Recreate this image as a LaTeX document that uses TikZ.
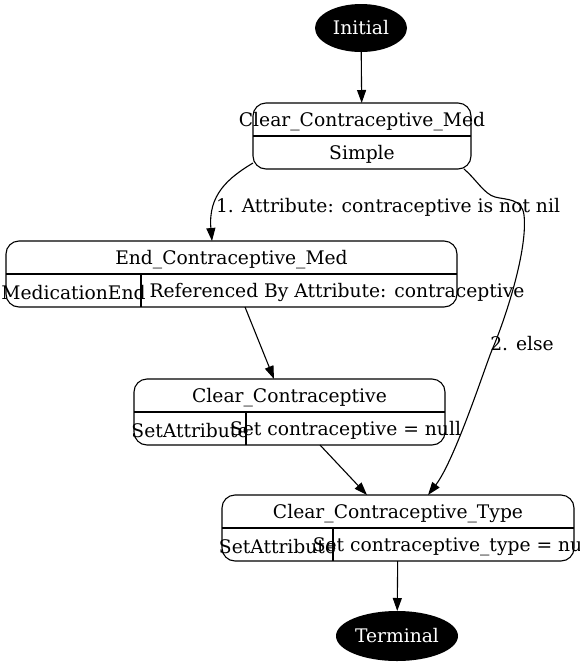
\documentclass[tikz,border=0pt]{standalone}
\usepackage{fontspec}
\setmainfont{DejaVu Serif}
\usetikzlibrary{arrows.meta,calc,shapes.geometric}
\begin{document}
\begin{tikzpicture}[x=1pt,y=-1pt,
  every node/.style={font=\fontsize{18.7}{22}\selectfont, inner sep=0pt, outer sep=0pt},
  rec/.style={draw, line width=1.1pt, rounded corners=13pt},
  divline/.style={line width=1.1pt},
  edge/.style={line width=1.1pt, -{Triangle[length=13pt,width=9pt]}},
  term/.style={ellipse, fill=black, text=white}]
\useasboundingbox (0,0) rectangle (580,665);

% start / end
\node[term, minimum width=92pt, minimum height=48pt] (i) at (361,28) {Initial};
\node[term, minimum width=122pt, minimum height=50pt] (t) at (397,636) {Terminal};

% boxes
\node[rec, minimum width=218pt, minimum height=66pt] (b1) at (362,136) {};
\node[rec, minimum width=451pt, minimum height=66pt] (b2) at (231.5,274) {};
\node[rec, minimum width=311pt, minimum height=66pt] (b3) at (289.5,412) {};
\node[rec, minimum width=352pt, minimum height=66pt] (b4) at (398,528) {};

% dividers
\draw[divline] (b1.west) -- (b1.east);
\draw[divline] (b2.west) -- (b2.east);
\draw[divline] ($(b2.west)+(135,0)$) -- ($(b2.south west)+(135,0)$);
\draw[divline] (b3.west) -- (b3.east);
\draw[divline] ($(b3.west)+(112,0)$) -- ($(b3.south west)+(112,0)$);
\draw[divline] (b4.west) -- (b4.east);
\draw[divline] ($(b4.west)+(111,0)$) -- ($(b4.south west)+(111,0)$);

% texts
\node (b1a) at (362,121.5) {Clear\_Contraceptive\_Med};
\node (b1b) at (362,154.5) {Simple};
\node (b2a) at (231.5,259.5) {End\_Contraceptive\_Med};
\node (b2b) at (73.5,292.5) {MedicationEnd};
\node (b2c) at (337,292.5) {Referenced By Attribute: contraceptive};
\node (b3a) at (289.5,397.5) {Clear\_Contraceptive};
\node (b3b) at (190,430.5) {SetAttribute};
\node (b3c) at (345.5,430.5) {Set contraceptive = null};
\node (b4a) at (398,513.5) {Clear\_Contraceptive\_Type};
\node (b4b) at (277.5,546.5) {SetAttribute};
\node (b4c) at (453.5,546.5) {Set contraceptive\_type = null};

% edge labels
\node (l1) at (388,207) {1. Attribute: contraceptive is not nil};
\node (l2) at (522,343.5) {2. else};

% edges
\draw[edge] (i) -- (b1);
\draw[edge] ($(b1.south west)+(0,-6)$) .. controls (228,178) and (208,195) .. ($(b2.north west)+(206,0)$);
\draw[edge] ($(b1.south east)+(-7,0)$) .. controls (476,179) and (484,194) .. (495,197)
   .. controls (506,200) and (522,198) .. (524,215)
   .. controls (528,250) and (505,320) .. (492,350)
   .. controls (486,364) and (455,460) .. ($(b4.north west)+(206,0)$);
\draw[edge] ($(b2.south west)+(239,0)$) -- ($(b3.north west)+(140,0)$);
\draw[edge] ($(b3.south west)+(186,0)$) -- ($(b4.north west)+(145,0)$);
\draw[edge] (b4) -- (t);
\end{tikzpicture}
\end{document}
